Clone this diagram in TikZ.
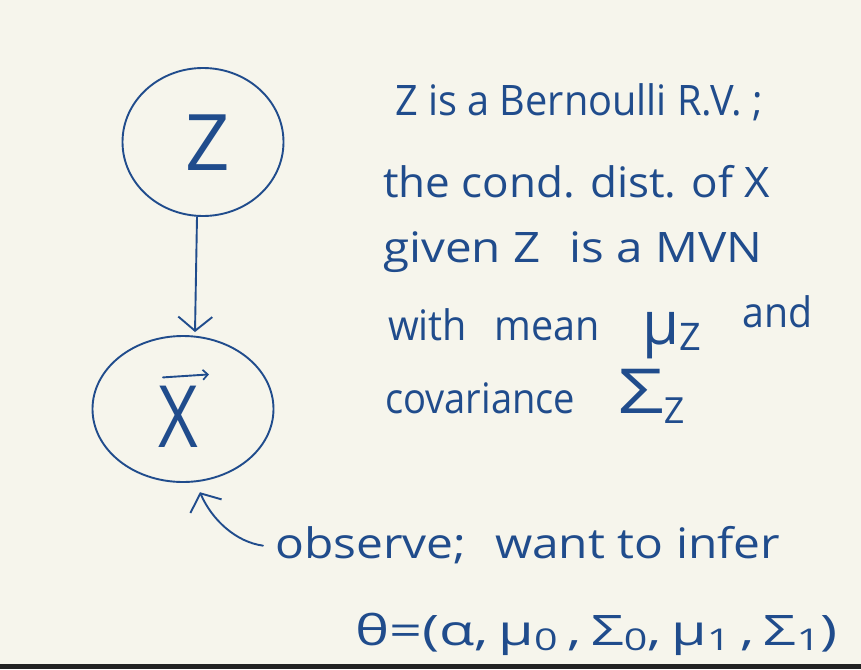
\documentclass[tikz,border=0pt]{standalone}
\usepackage{fontspec}
\usepackage{graphicx}
\setmainfont{Open Sans}
\usetikzlibrary{arrows.meta,shapes.geometric}
\definecolor{paper}{RGB}{246,245,236}
\definecolor{ink}{RGB}{32,76,140}
\definecolor{barc}{RGB}{34,34,34}
\newsavebox\fitbox
\newcommand\fitw[2]{\sbox\fitbox{#2}\pgfmathparse{#1/\wd\fitbox}\scalebox{\pgfmathresult}[1]{\usebox\fitbox}}
\newcommand\fs[1]{\fontsize{#1}{#1}\selectfont}
\newcommand\lowsub[3][30]{\raisebox{#2}{\fs{#1}#3}}
\tikzset{
  ink/.style={draw=ink, line width=1.9pt, line cap=round, line join=round},
  rv/.style={ellipse, ink, inner sep=0pt},
  hand/.style={text=ink, anchor=base west, inner sep=0pt, font=\fs{42}},
  barb/.style={-{Straight Barb[length=14pt,width=34pt,line width=1.9pt]}}
}
\begin{document}
\begin{tikzpicture}[x=1pt,y=-1pt]
\fill[paper] (0,0) rectangle (861,669);
\useasboundingbox (0,0) rectangle (861,669);
\fill[barc] (0,664) rectangle (861,669);
% nodes
\node[rv, minimum width=161pt, minimum height=148pt] (Z) at (203,142) {};
\node[rv, minimum width=181pt, minimum height=146pt] (X) at (183,409) {};
\node[hand, anchor=base] (zl) at (208,170) {\fs{78}Z};
\node[hand, anchor=base] (xl) at (178,447) {\scalebox{0.8}[1]{\fs{86}X}};
\draw[ink, -{Straight Barb[length=5pt,width=10pt,line width=1.7pt]}] ([xshift=-15pt,yshift=8pt]xl.north) -- ([xshift=31pt,yshift=11pt]xl.north);
% arrow Z -> X
\draw[ink, barb] ([xshift=-6pt]Z.south) -- ([xshift=12pt,yshift=3pt]X.north);
% text
\node[hand] (l1) at (395,115) {\fitw{368}{Z is a Bernoulli R.V. ;}};
\node[hand] (l2) at (383,197) {\fitw{387}{the cond. dist. of X}};
\node[hand] (l3) at (383,262) {\fitw{379}{given Z\hspace{0.6em}is a MVN}};
\node[hand] (l4) at (388,340) {\fitw{212}{with\hspace{0.7em}mean}};
\node[hand] (mu) at (642,344) {\fs{60}μ\lowsub[38]{-6pt}{Z}};
\node[hand] (and) at (742,327) {\fitw{70}{and}};
\node[hand] (l5) at (385,413) {\fitw{190}{covariance}};
\node[hand] (sig) at (618,413) {\scalebox{1.3}[1]{\fs{62}Σ}\lowsub[36]{-10pt}{Z}};
\node[hand] (obs) at (275,558) {\fitw{505}{observe;\hspace{0.6em}want to infer}};
\node[hand] (th) at (355,645) {\fitw{482}{θ=(α,\,μ\lowsub{-5pt}{0}\,,\,Σ\lowsub{-5pt}{0},\,μ\lowsub{-5pt}{1}\,,\,Σ\lowsub{-5pt}{1})}};
% observe arrow
\draw[ink, barb] ([xshift=-12pt,yshift=-1pt]obs.west) .. controls (236,542) and (212,520) .. ([xshift=4pt,yshift=-10pt]X.-80);
\end{tikzpicture}
\end{document}
